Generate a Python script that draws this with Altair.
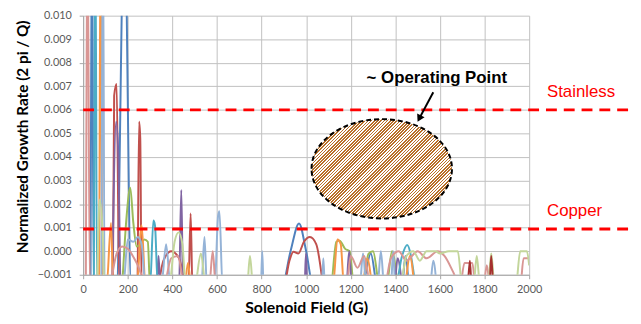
import altair as alt
import pandas as pd

# ---------------- data ----------------
x_ticks = [0, 200, 400, 600, 800, 1000, 1200, 1400, 1600, 1800, 2000]
y_ticks = [-0.001, 0.000, 0.001, 0.002, 0.003, 0.004, 0.005, 0.006, 0.007, 0.008, 0.009, 0.010]

blue_x = [33, 40, 47, 150, 185, 215, 891, 930, 968, 1000, 1032, 1250, 1290, 1320, 1430, 1445, 1460]
blue_y = [-0.0015, 0.0135, -0.0015, -0.0015, 0.0145, -0.0015, -0.0015, 0.0000, 0.00118, 0.0000, -0.0015,
          -0.0015, -0.0001, -0.0015, -0.0015, -0.0002, -0.0015]

red_x = [133, 139, 150, 162, 243, 251, 256, 262, 330, 360, 395, 430, 465, 472, 482, 490,
         899, 925, 943, 965, 990, 1017, 1045, 1076]
red_y = [-0.0015, 0.0066, 0.0071, -0.0015, -0.0015, 0.0055, 0.0048, -0.0015,
         -0.0015, -0.0004, 0.0000, -0.0003, -0.0015, -0.0015, 0.0016, -0.0015,
         -0.0015, -0.0004, -0.00002, -0.0001, 0.0004, 0.0006, 0.0003, -0.0015]

green_x = [175, 195, 211, 225, 240, 255, 275, 290, 300, 1110, 1135, 1150, 1175, 1195, 1215,
           1250, 1280, 1300, 1330, 1360, 1385, 1410]
green_y = [-0.0015, 0.0015, 0.0027, 0.0012, 0.0002, 0.0003, 0.0005, 0.0004, -0.0015,
           -0.0015, 0.0004, 0.00045, 0.0001, 0.0000, -0.0015,
           -0.0015, -0.0001, 0.0000, -0.0015, -0.0015, 0.0000, -0.0015]

purple_x = [130, 148, 158, 168, 330, 338, 346, 430, 440, 448, 993, 999, 1005, 1180, 1193, 1205, 1395, 1410, 1430]
purple_y = [-0.0015, 0.0055, 0.0040, -0.0015, -0.0015, -0.0002, -0.0015, -0.0015, 0.0026, -0.0015,
            -0.0015, -0.0001, -0.0015, -0.0015, 0.0000, -0.0015, -0.0015, -0.0003, -0.0015]

aqua_x = [48, 55, 62, 300, 315, 322, 335, 1400, 1430, 1453, 1470, 1490]
aqua_y = [-0.0015, 0.0135, -0.0015, -0.0015, 0.0013, 0.0011, -0.0015, -0.0015, -0.0002, 0.00026, -0.0002, -0.0015]

orange_x = [72, 79, 86, 105, 125, 135, 240, 262, 280, 455, 470, 485, 1120, 1140, 1155, 1170,
            1250, 1275, 1300, 1440, 1465, 1485]
orange_y = [-0.0015, 0.0135, -0.0015, -0.0015, 0.0012, -0.0015, -0.0015, 0.0011, -0.0015,
            -0.0015, -0.0005, -0.0015, -0.0015, 0.0005, 0.0003, -0.0015,
            -0.0015, -0.0003, -0.0015, -0.0015, -0.0002, -0.0015]

lightblue_x = [82, 89, 96, 180, 200, 225, 245, 262, 280, 350, 372, 392, 530, 544, 555, 590, 605, 611, 625,
               797, 803, 809, 1070, 1077, 1084, 1240, 1255, 1270, 1320, 1335, 1350, 1380, 1390, 1400,
               1555, 1570, 1585]
lightblue_y = [-0.0015, 0.0135, -0.0015, -0.0015, 0.0005, 0.0004, 0.0006, 0.0003, -0.0015,
               -0.0015, 0.0003, -0.0015, -0.0015, 0.0006, -0.0015, -0.0015, 0.0015, 0.0017, -0.0015,
               -0.0015, 0.0000, -0.0015, -0.0015, -0.0003, -0.0015, -0.0015, -0.0001, -0.0015,
               -0.0015, 0.0000, -0.0015, -0.0015, 0.0000, -0.0015, -0.0015, -0.0004, -0.0015]

pink_x = [12, 20, 30, 115, 150, 175, 200, 240, 290, 360, 395, 425, 455, 565, 581, 595,
          1180, 1200, 1230, 1260, 1290, 1350, 1380, 1415, 1450, 1500, 1540, 1590, 1620, 1660, 1690,
          1710, 1745, 1760, 1795, 1810, 1825, 1960, 1975, 1995]
pink_y = [-0.0015, 0.0135, -0.0015, -0.0015, -0.0001, 0.0002, 0.0001, -0.0005, -0.0015,
          -0.0015, -0.0003, -0.0002, -0.0015, -0.0015, 0.0000, -0.0015,
          -0.0015, -0.0002, -0.0007, -0.0002, -0.0015, -0.0015, -0.0003, 0.0000, -0.0004, 0.0000,
          -0.0003, 0.0000, -0.0002, -0.0009, -0.0015, -0.0005, -0.0005, -0.0015,
          -0.0015, -0.0006, -0.0015, -0.0015, -0.0003, -0.0003]

lightgreen_x = [63, 74, 89, 95, 385, 410, 428, 445, 460, 500, 528, 550, 735, 748, 762,
                1420, 1450, 1480, 1510, 1540, 1580, 1600, 1640, 1680, 1700,
                1750, 1765, 1780, 1815, 1830, 1845, 1940, 1960, 1990, 2000]
lightgreen_y = [-0.0015, 0.0022, 0.0004, -0.0015, -0.0015, 0.0004, 0.0008, 0.0003, -0.0015,
                -0.0015, -0.0001, -0.0015, -0.0015, -0.0002, -0.0015,
                -0.0015, -0.0002, 0.0000, -0.0004, 0.0000, 0.0000, -0.0001, 0.0000, 0.0000, -0.0015,
                -0.0015, -0.0002, -0.0015, -0.0015, -0.0001, -0.0015, -0.0015, 0.0000, 0.0000, -0.0006]

darkred_x = [1725, 1734, 1742, 1822, 1830, 1838]
darkred_y = [-0.0015, -0.0004, -0.0015, -0.0015, -0.0002, -0.0015]

series_names = ["blue", "red", "green", "purple", "aqua", "orange", "lightblue", "pink", "lightgreen", "darkred"]
series_colors = ["#4F81BD", "#C0504D", "#9BBB59", "#8064A2", "#4BACC6", "#F79646",
                 "#95B3D7", "#D99694", "#C3D69B", "#A5302E"]
series_xy = [(blue_x, blue_y), (red_x, red_y), (green_x, green_y), (purple_x, purple_y),
             (aqua_x, aqua_y), (orange_x, orange_y), (lightblue_x, lightblue_y),
             (pink_x, pink_y), (lightgreen_x, lightgreen_y), (darkred_x, darkred_y)]

# reference (dashed) limits
limit_names = ["Stainless", "Copper"]
limit_y = [0.006, 0.00094]
limit_x_start = [0, 0]
limit_x_end = [2466, 2466]
limit_label_x = [2080, 2080]
limit_label_y = [0.00675, 0.00171]

# operating point annotation
op_center_x = [1339]
op_center_y = [0.0035]
op_text = ["~ Operating Point"]
op_text_x = [1586]
op_text_y = [0.00734]
arrow_start_x = [1570]
arrow_start_y = [0.00675]
arrow_end_x = [1507]
arrow_end_y = [0.00563]

# ---------------- tables ----------------
rows = []
for order, (name, (xs, ys)) in enumerate(zip(series_names, series_xy)):
    assert len(xs) == len(ys), name
    for xv, yv in zip(xs, ys):
        rows.append({"series": name, "x": xv, "y": yv, "o": order})
df = pd.DataFrame(rows)

lim_df = pd.DataFrame({"name": limit_names, "y": limit_y, "x": limit_x_start, "x1": limit_x_end,
                       "lx": limit_label_x, "ly": limit_label_y})
ell_df = pd.DataFrame({"x": op_center_x, "y": op_center_y})
txt_df = pd.DataFrame({"t": op_text, "x": op_text_x, "y": op_text_y})
arr_df = pd.DataFrame({"x": arrow_start_x, "y": arrow_start_y, "x2": arrow_end_x, "y2": arrow_end_y})

W, H = 451, 262
X_TITLE = "Solenoid Field (G)"
Y_TITLE = "Normalized Growth Rate (2 pi / Q)"
x_scale = alt.Scale(domain=[0, 2000], nice=False, zero=False)
y_scale = alt.Scale(domain=[-0.001, 0.010], nice=False, zero=False)
x_axis = alt.Axis(values=x_ticks, title=X_TITLE, format="d",
                  labelFlush=False, labelOverlap=False, labelPadding=5, tickSize=4,
                  titleX=W / 2, titleY=33, titleBaseline="middle", titleAlign="center")
y_axis = alt.Axis(values=y_ticks, format=".3f", title=Y_TITLE,
                  labelFlush=False, labelOverlap=False, labelPadding=8, tickSize=4,
                  titleX=-61, titleY=122, titleAngle=270, titleBaseline="middle",
                  titleAlign="center", titleFontSize=15.5)


def X(field):
    return alt.X(field, scale=x_scale, axis=x_axis, title=X_TITLE)


def Y(field):
    return alt.Y(field, scale=y_scale, axis=y_axis, title=Y_TITLE)


lines = alt.Chart(df).mark_line(strokeWidth=2, interpolate="monotone", clip=True).encode(
    x=X("x:Q"),
    y=Y("y:Q"),
    color=alt.Color("series:N", scale=alt.Scale(domain=series_names, range=series_colors), legend=None),
    order=alt.Order("o:Q"),
)

rules = alt.Chart(lim_df).mark_rule(color="#FF0000", strokeWidth=3, strokeDash=[11, 7]).encode(
    x=X("x:Q"),
    x2="x1:Q",
    y=Y("y:Q"),
)

rule_labels = alt.Chart(lim_df).mark_text(align="left", baseline="middle", font="Liberation Sans",
                                          fontSize=17, color="#FF0000").encode(
    x=X("lx:Q"),
    y=Y("ly:Q"),
    text="name:N",
)

# hatched ellipse: stripes via a repeated hard-stop linear gradient
brown = "#B96F27"
white = "#FFFFFF"
n_str = 66
stops = []
for i in range(n_str):
    a, b, c = i / n_str, (i + 0.5) / n_str, (i + 1) / n_str
    stops += [{"offset": a, "color": brown}, {"offset": b, "color": brown},
              {"offset": b, "color": white}, {"offset": c, "color": white}]
grad = {"gradient": "linear", "x1": 0, "y1": 0, "x2": 1, "y2": 0.707, "stops": stops}

ry = 0.707
k = 0.5523
e_path = (f"M -1 0 C -1 {-k*ry:.4f} {-k:.4f} {-ry} 0 {-ry} "
          f"C {k:.4f} {-ry} 1 {-k*ry:.4f} 1 0 "
          f"C 1 {k*ry:.4f} {k:.4f} {ry} 0 {ry} "
          f"C {-k:.4f} {ry} -1 {k*ry:.4f} -1 0 Z")

ellipse = alt.Chart(ell_df).mark_point(shape=e_path, size=142 * 142, filled=True, fill=grad,
                                       stroke="#000000", strokeWidth=2, strokeDash=[5, 3],
                                       opacity=1, fillOpacity=1, strokeOpacity=1).encode(
    x=X("x:Q"),
    y=Y("y:Q"),
)

arrow_line = alt.Chart(arr_df).mark_rule(color="#000000", strokeWidth=2).encode(
    x=X("x:Q"),
    y=Y("y:Q"),
    x2="x2:Q", y2="y2:Q",
)
arrow_head = alt.Chart(arr_df).mark_point(shape="triangle-up", size=70, filled=True, color="#000000",
                                          opacity=1, angle=207).encode(
    x=X("x2:Q"),
    y=Y("y2:Q"),
)

op_label = alt.Chart(txt_df).mark_text(align="center", baseline="middle", font="Liberation Sans",
                                       fontSize=17, fontWeight="bold", color="#000000").encode(
    x=X("x:Q"),
    y=Y("y:Q"),
    text="t:N",
)

chart = alt.layer(lines, rules, ellipse, arrow_line, arrow_head, op_label, rule_labels).properties(
    width=W, height=H,
    autosize=alt.AutoSizeParams(type="none"),
    padding={"left": 76, "top": 6, "right": 105, "bottom": 46},
    background="#FFFFFF",
).configure_view(strokeWidth=0).configure_axis(
    gridColor="#C0C0C0", gridWidth=1, domainColor="#A6A6A6", tickColor="#A6A6A6",
    labelFont="Lato", labelFontSize=11, labelColor="#595959",
    titleFont="Lato", titleFontSize=16, titleFontWeight="bold", titleColor="#000000",
)

chart.save("out.html", embed_options={"renderer": "svg", "actions": False})
